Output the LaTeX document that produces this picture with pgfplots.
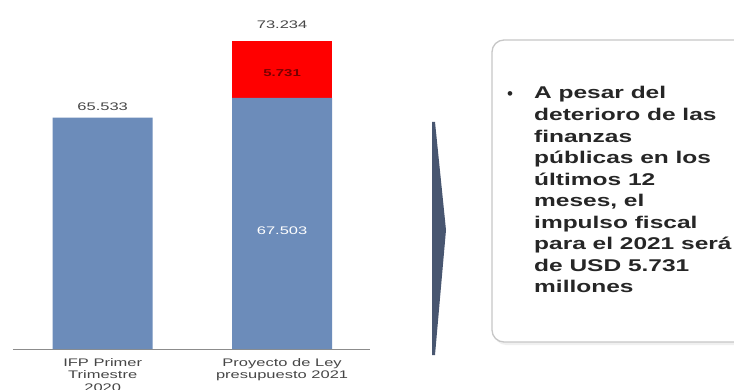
\documentclass[border=0pt]{standalone}
\usepackage{pgfplots}
\pgfplotsset{compat=1.18}
\usepackage{fontspec}
\setmainfont{Liberation Sans}
\definecolor{barblue}{RGB}{108,140,186}
\definecolor{barred}{RGB}{255,0,0}
\definecolor{chev}{RGB}{72,86,112}
\definecolor{lbl}{RGB}{70,70,70}
\newcommand{\sx}[1]{\scalebox{1.5}[1]{#1}}
\newcommand{\bx}[1]{\scalebox{1.44}[1]{#1}}
\begin{document}
\begin{tikzpicture}[x=1pt,y=1pt]
\clip (0,0) rectangle (734,389);
\fill[white] (0,0) rectangle (734,389);
\begin{axis}[
  at={(13pt,40pt)}, anchor=south west,
  scale only axis, width=357pt, height=349pt,
  xmin=-0.5, xmax=1.49, ymin=42.4, ymax=77.3,
  ybar stacked, bar width=100pt,
  axis x line*=bottom, hide y axis,
  axis line style={draw=black!45, line width=1pt},
  xtick={0,1}, major tick length=0pt,
  xticklabels={{\sx{\begin{tabular}{@{}c@{}}IFP Primer\\Trimestre\\2020\end{tabular}}},
               {\sx{\begin{tabular}{@{}c@{}}Proyecto de Ley\\presupuesto 2021\end{tabular}}}},
  xticklabel style={font=\fontsize{11}{12.8}\selectfont, text=lbl, inner sep=0pt, anchor=north, yshift=-8pt},
]
\addplot[fill=barblue, draw=none] coordinates {(0,65.533) (1,67.503)};
\addplot[fill=barred, draw=none] coordinates {(0,0) (1,5.731)};
\coordinate (l1) at (axis cs:0,66.6);
\coordinate (l2) at (axis cs:1,74.8);
\coordinate (l3) at (axis cs:1,70.0);
\coordinate (l4) at (axis cs:1,54.2);
\end{axis}
\node[font=\fontsize{11}{13}\selectfont, text=lbl] at (l1) {\sx{65.533}};
\node[font=\fontsize{11}{13}\selectfont, text=lbl] at (l2) {\sx{73.234}};
\node[font=\bfseries\fontsize{10}{12}\selectfont, text={rgb,255:red,120;green,0;blue,0}] at (l3) {\sx{5.731}};
\node[font=\fontsize{11}{13}\selectfont, text=white] at (l4) {\sx{67.503}};
% chevron
\fill[chev] (432,267) -- (435,267) -- (446,159) -- (435,34) -- (432,34) -- cycle;
% rounded box
\fill[black!6, rounded corners=12pt] (494,346) rectangle (772,44);
\draw[black!22, line width=1.3pt, rounded corners=12pt, fill=white] (492,349) rectangle (770,47);
% bullet text
\node[font=\fontsize{17}{20}\selectfont, text=black!85] at (510,293) {•};
\begin{scope}[every node/.style={anchor=base west, inner sep=0pt, font=\bfseries\fontsize{17}{20}\selectfont, text=black!85}]
\node at (534,389-99) {\bx{A pesar del}};
\node at (534,389-120.5) {\bx{deterioro de las}};
\node at (534,389-142) {\bx{finanzas}};
\node at (534,389-163.5) {\bx{públicas en los}};
\node at (534,389-185) {\bx{últimos 12}};
\node at (534,389-206.5) {\bx{meses, el}};
\node at (534,389-228) {\bx{impulso fiscal}};
\node at (534,389-249.5) {\bx{para el 2021 será}};
\node at (534,389-271) {\bx{de USD 5.731}};
\node at (534,389-292.5) {\bx{millones}};
\end{scope}
\end{tikzpicture}
\end{document}
